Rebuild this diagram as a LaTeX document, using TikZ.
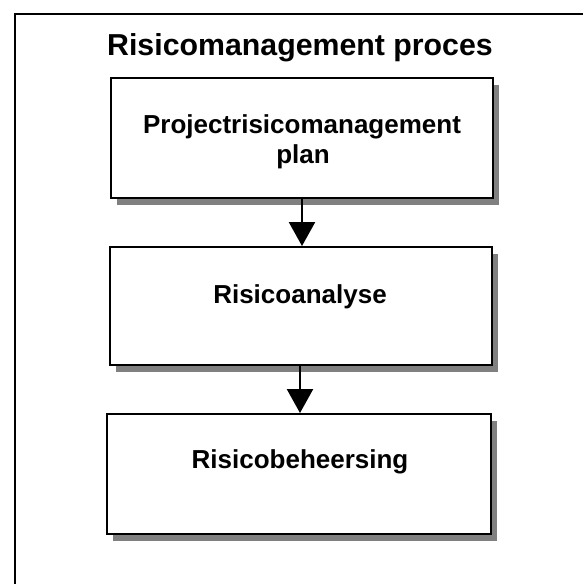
\documentclass[tikz,border=0pt]{standalone}
\usepackage{fontspec}
\setmainfont{Liberation Sans}
\usetikzlibrary{arrows.meta,shadows}
\begin{document}
\begin{tikzpicture}[x=1pt,y=-1pt,
  frame/.style={draw=black, line width=1.4pt},
  stagebox/.style={draw=black, line width=2pt, fill=white, inner sep=0pt,
    drop shadow={shadow xshift=6pt, shadow yshift=-7pt, fill=black!50, opacity=1}},
  stagetext/.style={anchor=base, inner sep=0pt, font=\fontsize{26}{30}\selectfont\bfseries},
  titletext/.style={anchor=base, inner sep=0pt, font=\fontsize{30.3}{36}\selectfont\bfseries},
  flow/.style={line width=2.4pt, -{Triangle[length=24pt,width=26pt]}}
]
\useasboundingbox (0,0) rectangle (583,584);

% outer frame (runs off the right and bottom edges)
\coordinate (frameTR) at (583,14);
\coordinate (frameTL) at (15,14);
\coordinate (frameBL) at (15,584);
\draw[frame] (frameTR) -- (frameTL) -- (frameBL);

% title
\node[titletext] (title) at (300,55) {Risicomanagement proces};

% process stages
\node[stagebox, minimum width=382pt, minimum height=120pt] (b1) at (302,138) {};
\node[stagebox, minimum width=382pt, minimum height=118pt] (b2) at (301,306) {};
\node[stagebox, minimum width=384pt, minimum height=120pt] (b3) at (299,474) {};

\node[stagetext] (t1a) at (302,133) {Projectrisicomanagement};
\node[stagetext] (t1b) at (303,163) {plan};
\node[stagetext] (t2) at (300,303) {Risicoanalyse};
\node[stagetext] (t3) at (300,468) {Risicobeheersing};

% connectors
\draw[flow] (b1.south) -- (b1.south |- b2.north);
\draw[flow] ([xshift=-1pt]b2.south) -- ([xshift=-1pt]b2.south |- b3.north);
\end{tikzpicture}
\end{document}
